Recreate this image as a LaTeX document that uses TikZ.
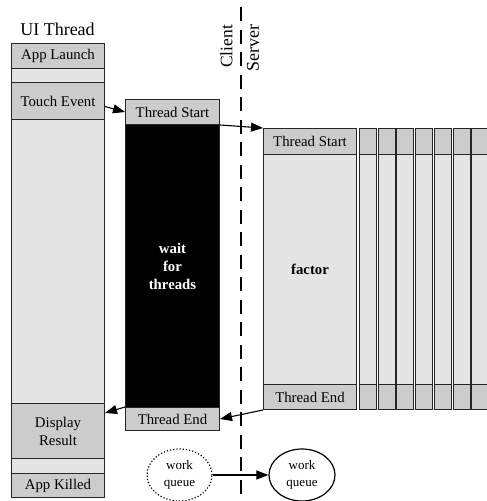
\documentclass[tikz,border=0pt]{standalone}
\usepackage{fontspec}
\setmainfont{Liberation Serif}
\usetikzlibrary{arrows.meta,shapes.geometric}
\newcommand{\nf}{\fontsize{14.8}{18}\selectfont}
\newcommand{\bigf}{\fontsize{18}{20}\selectfont}

\begin{document}
\begin{tikzpicture}[x=1pt, y=-1pt, every node/.style={font=\nf}, blk/.style={draw=black!85, line width=1pt, minimum width=93pt, inner sep=0pt, align=center, anchor=north west}, head/.style={blk, fill=gray!40}, body/.style={blk, fill=gray!20}, queue/.style={ellipse, draw, line width=1.2pt, minimum width=66pt, minimum height=52pt, inner sep=0pt, align=center, font=\fontsize{13}{17}\selectfont}, arr/.style={-{Triangle[length=12pt,width=9pt]}, line width=1.1pt}]
\useasboundingbox (0,0) rectangle (487,501);
% UI thread
\node[font=\bigf] (uititle) at (57.5,29) {UI Thread};
\node[head, minimum height=25pt] (launch) at (11,43) {App Launch};
\node[body, minimum height=14pt] (gap1) at (11,68) {};
\node[head, minimum height=37pt] (touch) at (11,82) {Touch Event};
\node[body, minimum height=284pt] (uibody) at (11,119) {};
\node[head, minimum height=55pt] (display) at (11,403) {Display\\Result};
\node[body, minimum height=15pt] (gap2) at (11,458) {};
\node[head, minimum height=24pt] (killed) at (11,473) {App Killed};
% client worker
\node[head, minimum width=94pt, minimum height=25pt] (tstart) at (125,99) {Thread Start};
\node[blk, fill=black, text=white, font=\nf\bfseries, minimum width=94pt, minimum height=283pt] (wait) at (125,124) {wait\\for\\threads};
\node[head, minimum width=94pt, minimum height=23pt] (tend) at (125,407) {Thread End};
% divider
\coordinate (divtop) at (241,7);
\coordinate (divbot) at (241,501);
\draw[line width=2.3pt, dash pattern=on 14pt off 8.5pt] (divtop) -- (divbot);
\node[rotate=90, font=\fontsize{17.5}{20}\selectfont] (client) at (226.5,46.5) {Client};
\node[rotate=90, font=\bigf] (server) at (253,48) {Server};
% server threads
\node[head, minimum height=26pt] (sstart) at (263,128) {Thread Start};
\node[body, minimum height=230pt, font=\nf\bfseries] (factor) at (263,154) {factor};
\node[head, minimum height=25pt] (send) at (263,384) {Thread End};
\foreach \i in {0,...,6}{
  \node[head, minimum width=17pt, minimum height=26pt] (th\i) at ({359+18.7*\i},128) {};
  \node[body, minimum width=17pt, minimum height=230pt] (tb\i) at ({359+18.7*\i},154) {};
  \node[head, minimum width=17pt, minimum height=25pt] (te\i) at ({359+18.7*\i},384) {};
}
% queues
\node[queue, dotted, minimum width=65pt] (wqclient) at (179.5,475) {work\\queue};
\node[queue] (wqserver) at (302,475) {work\\queue};
% arrows
\draw[arr] ([yshift=-5.5pt]touch.east) -- (tstart.west);
\draw[arr] (tstart.south east) -- (sstart.north west);
\draw[arr] (send.south west) -- (tend.east);
\draw[arr] (tend.north west) -- ([yshift=-10pt]display.north east);
\draw[arr] (wqclient) -- (wqserver);
\end{tikzpicture}
\end{document}
